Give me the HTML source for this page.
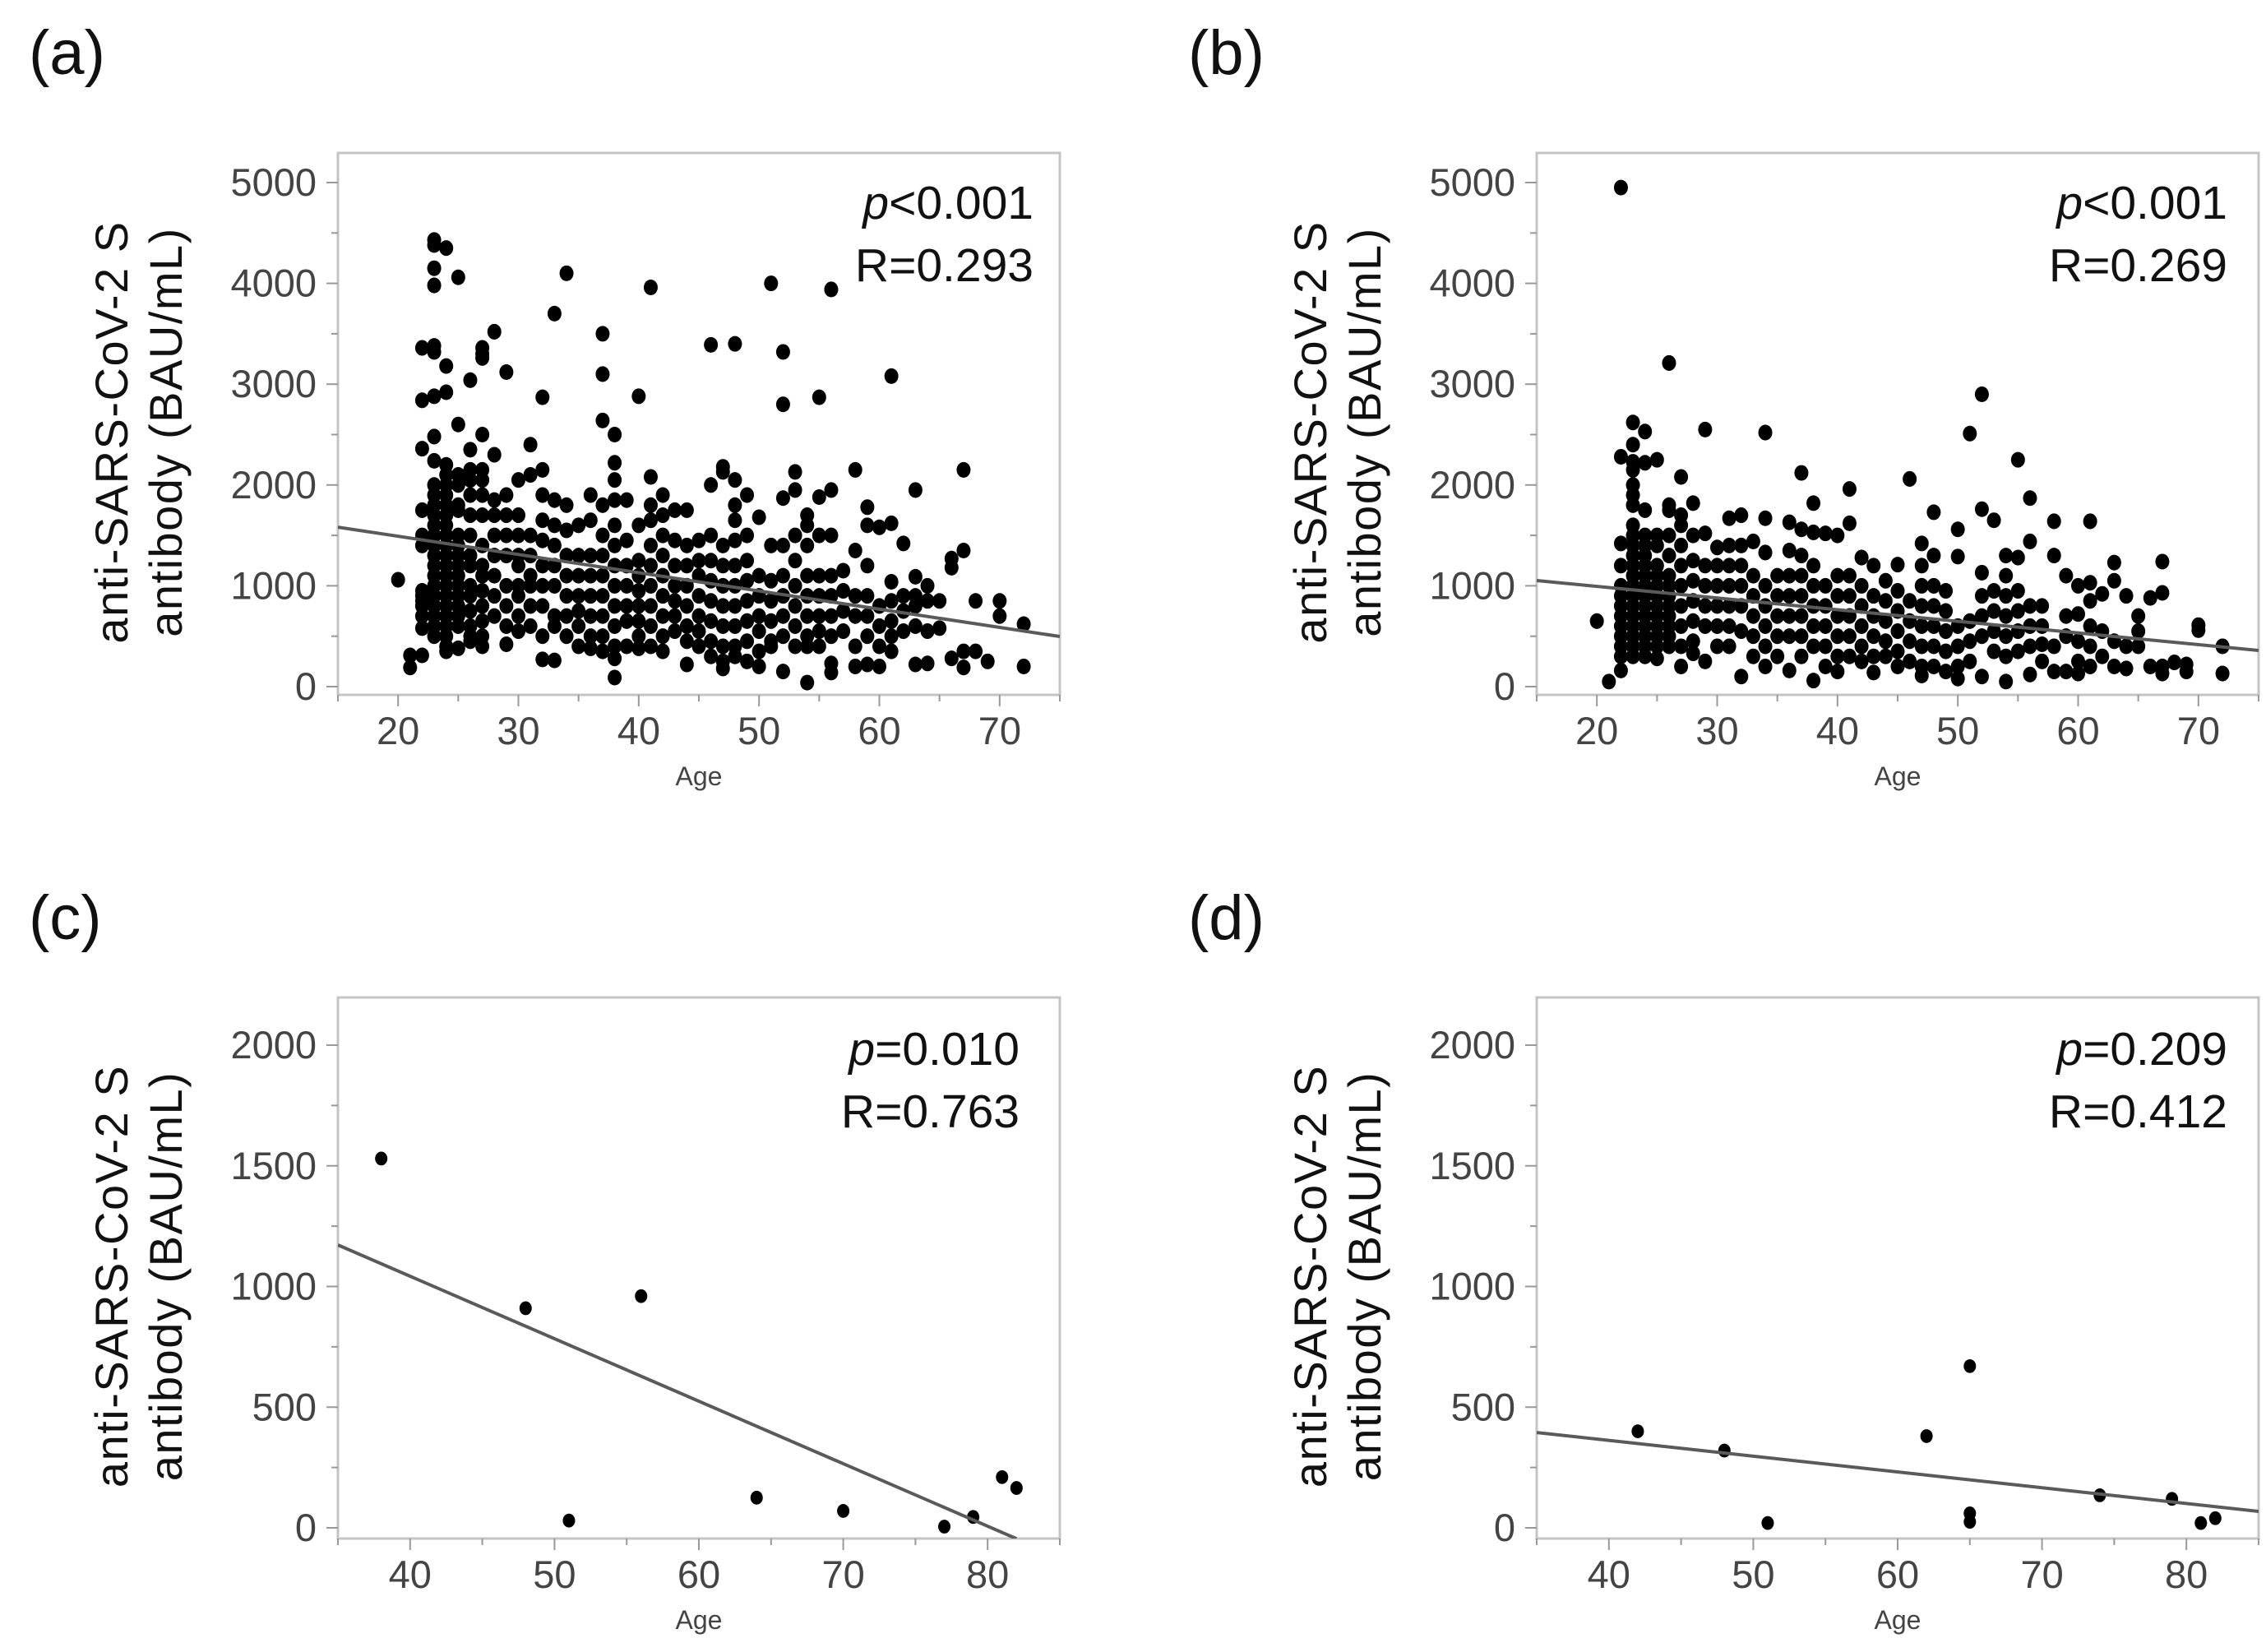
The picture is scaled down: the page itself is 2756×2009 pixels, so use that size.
<!DOCTYPE html>
<html><head><meta charset="utf-8"><style>
html,body{margin:0;padding:0;background:#fff;}
svg{display:block;}
text{font-family:"Liberation Sans",sans-serif;}
</style></head><body>
<svg id="fig" width="2756" height="2009" viewBox="0 0 2756 2009" xmlns="http://www.w3.org/2000/svg"></svg>
<script>
// ---- data: panel (a) age -> antibody values
const ageA = [20,21,22,23,24,25,26,27,28,29,30,31,32,33,34,35,36,37,38,39,40,41,42,43,44,45,46,47,48,49,50,51,52,53,54,55,56,57,58,59,60,61,62,63,64,65,66,67,68,69,70,72];
const valA = [
[1060],[190,310],
[2840,3360,2360,1750,1500,1400,950,900,850,800,700,580,310],
[4430,4380,4150,3980,3380,3320,2880,2480,2240,2000,1900,1800,1700,1600,1500,1400,1300,1200,1100,1000,900,800,700,600,500],
[4350,3180,2920,2200,2100,2000,1900,1800,1700,1600,1500,1400,1300,1200,1100,1000,900,800,700,600,500,400,350],
[4060,2600,2100,2000,1800,1750,1500,1400,1300,1200,1100,1000,900,800,700,600,380],
[3040,2350,2150,2050,1900,1700,1500,1300,1200,1000,900,750,600,500,450],
[3360,3300,3260,2500,2150,2050,1900,1700,1400,1200,1100,950,800,650,500,400],
[3520,2300,1850,1700,1500,1300,1100,900,700],
[3120,1900,1700,1500,1300,1000,800,600,420],
[2050,1700,1500,1300,1200,1000,900,700,550],
[2400,2100,1500,1300,1100,1000,800,600],
[2870,2150,1900,1650,1450,1200,1000,800,500,270],
[3700,1850,1600,1400,1200,1000,700,600,260],
[4100,1800,1550,1300,1100,900,700,500],
[1600,1300,1100,900,750,600,400],
[1900,1650,1300,1100,900,700,500,380],
[3500,3100,2640,1800,1500,1300,1100,900,700,500,350],
[2500,2220,2050,1850,1600,1400,1200,1000,800,600,400,280,90],
[1850,1450,1200,1000,800,650,400],
[2880,1600,1250,1100,950,800,650,500,380],
[3960,2080,1800,1650,1400,1200,1000,800,600,400],
[1900,1700,1500,1300,1100,900,700,500,350],
[1750,1450,1200,1000,850,700,550],
[1750,1400,1200,1000,800,600,450,220],
[1450,1250,1100,900,700,550,400],
[3390,2000,1500,1250,1050,850,650,450,300],
[2180,2130,1400,1200,1000,800,600,400,250,180],
[3400,2050,1800,1650,1450,1200,1000,800,600,400,300],
[1900,1500,1250,1050,850,650,450,250],
[1680,1100,900,700,550,350,200],
[4000,1400,1050,850,650,450,400],
[3320,2800,1870,1400,1100,900,700,500,150],
[2130,1950,1500,1250,1000,800,600,400],
[1700,1600,1400,1100,900,700,500,400,40],
[2870,1880,1500,1100,900,700,550,400],
[3940,1950,1500,1100,900,700,500,230,140],
[1150,950,750,550],
[2150,1350,900,700,400,200],
[1780,1600,1200,900,700,500,220],
[1580,800,600,400,200],
[3080,1620,1040,850,650,500,350],
[1420,900,750,550],
[1950,1090,900,800,600,220],
[1000,850,550,230],
[850,580],
[1270,1180,280],
[2150,1350,350,190],
[350,850],[250],[850,700],[620,200]
];
// ---- panel (b)
const ageB = [20,21,22,23,24,25,26,27,28,29,30,31,32,33,34,35,36,37,38,39,40,41,42,43,44,45,46,47,48,49,50,51,52,53,54,55,56,57,58,59,60,61,62,63,64,65,66,67,68,69,70,72];
const valB = [
[650],[50],
[4950,2280,1420,1200,1000,900,800,700,600,500,400,300,160],
[2620,2400,2230,2150,2000,1900,1800,1600,1500,1400,1300,1200,1100,1000,900,800,700,600,500,400,300],
[2530,2220,1750,1500,1400,1300,1200,1100,1000,900,800,700,600,500,400,300],
[2250,1500,1400,1200,1100,1000,900,800,700,600,500,400,280],
[3210,1800,1750,1500,1300,1100,1000,900,800,700,600,500,400],
[2080,1700,1600,1400,1200,1000,800,600,400,200],
[1820,1500,1250,1050,850,650,450,330],
[2550,1520,1200,1000,800,600,250],
[1380,1200,1000,800,600,400],
[1670,1400,1200,1000,800,600,400],
[1700,1400,1200,1000,800,550,100],
[1440,1100,900,700,500,300],
[2520,1670,1330,1000,800,600,400,200],
[1100,900,700,500,300],
[1630,1350,1100,900,700,500,160],
[2120,1560,1300,1100,900,700,500,300],
[1820,1530,1200,1000,800,600,400,60],
[1520,1000,800,600,400,200],
[1500,1100,900,700,500,300,150],
[1960,1620,1100,900,700,500,300],
[1280,1000,800,600,400,250],
[1200,900,700,500,300,140],
[1050,850,650,450,300],
[1210,950,750,550,350,200],
[2060,850,650,450,250],
[1420,1200,1000,800,600,400,200,110],
[1730,1300,1000,800,600,400,200],
[950,750,550,350,150],
[1560,1290,600,400,200,80],
[2510,650,450,250],
[2900,1760,1130,900,700,500,100],
[1650,950,750,550,350],
[1300,1100,900,700,500,300,50],
[2250,1280,950,750,550,350],
[1870,1440,800,600,400,120],
[800,600,420,250],
[1640,1300,400,150],
[1100,700,500,150],
[1000,720,450,250,130],
[1640,1030,850,600,400,200],
[920,550,300],
[1230,1050,450,200],
[900,400,180],
[700,550,400],
[880,200],
[1240,930,200,130],
[240],[150,220],[610,560],[400,130]
];
// ---- panel (c)
const ageC = [38,48,51,56,64,70,77,79,81,82];
const valC = [1530,910,30,960,125,70,5,45,210,165];
// ---- panel (d)
const ageD = [42,48,51,62,65,65,65,74,79,81,82];
const valD = [400,320,20,380,670,60,25,135,120,20,40];
// ---- regression endpoints [x0,y0,x1,y1]
const fitA = [15,1582,75,497];
const fitB = [15,1052,75,359];
const fitC = [35,1172,82,-45];
const fitD = [35,395,85,68];
// ---- ticks
const xTicksTop = [20,30,40,50,60,70];
const xTicksBot = [40,50,60,70,80];
const yTicksTop = [0,1000,2000,3000,4000,5000];
const yTicksBot = [0,500,1000,1500,2000];
const stats = [["<0.001","R=0.293"],["<0.001","R=0.269"],["=0.010","R=0.763"],["=0.209","R=0.412"]];

const NS="http://www.w3.org/2000/svg";
const svg=document.getElementById('fig');
function mk(tag,attrs,parent){const e=document.createElementNS(NS,tag);for(const k in attrs)e.setAttribute(k,attrs[k]);(parent||svg).appendChild(e);return e;}

function panel(cfg){
  const g=mk('g',{});
  
  
  const L=cfg.L,R=cfg.R,T=cfg.T,B=cfg.B;
  const sx=v=>L+(v-cfg.xmin)/(cfg.xmax-cfg.xmin)*(R-L);
  const sy=v=>cfg.y0+(v)/(cfg.ytop)*(cfg.yt-cfg.y0);
  const lab=mk('text',{x:cfg.lx,y:cfg.ly,'font-size':76,fill:'#111'},g);
  lab.textContent='('+cfg.id+')';
  
  
  const cp=mk('clipPath',{id:'clip'+cfg.id},g);
  mk('rect',{x:L,y:T,width:R-L,height:B-T},cp);
  const fr=mk('rect',{x:L,y:T,width:R-L,height:B-T,fill:'none',stroke:'#c4c4c4','stroke-width':3},g);
  
  
  const step=cfg.yTicks[1]-cfg.yTicks[0];
  for(let v=0;v<=cfg.yTicks[cfg.yTicks.length-1]+1;v+=step/2){
    const y=sy(v);const major=(v%step===0);
    mk('line',{x1:L-(major?14:8),x2:L,y1:y,y2:y,stroke:'#999','stroke-width':2},g);
  }
  cfg.yTicks.forEach(v=>{
    const t=mk('text',{x:L-26,y:sy(v)+16,'font-size':47,fill:'#444','text-anchor':'end'},g);
    t.textContent=v;
    
    
  });
  for(let v=Math.ceil(cfg.xmin/5)*5;v<=cfg.xmax;v+=5){
    const x=sx(v);const major=(v%10===0);
    mk('line',{x1:x,x2:x,y1:B,y2:B+(major?14:8),stroke:'#999','stroke-width':2},g);
  }
  cfg.xTicks.forEach(v=>{
    const t=mk('text',{x:sx(v),y:B+60,'font-size':47,fill:'#444','text-anchor':'middle'},g);
    t.textContent=v;
    
    
  });
  const xt=mk('text',{x:(L+R)/2,y:B+110,'font-size':32,fill:'#444','text-anchor':'middle'},g);
  xt.textContent='Age';
  
  
  const cy=(T+B)/2+10;
  const yt=mk('text',{transform:'translate('+(L-256)+','+cy+') rotate(-90)','font-size':56,'letter-spacing':1.5,fill:'#111','text-anchor':'middle'},g);
  
  
  const t1=mk('tspan',{x:0,y:0},yt);t1.textContent='anti-SARS-CoV-2 S';
  const t2=mk('tspan',{x:0,y:66},yt);t2.textContent='antibody (BAU/mL)';
  const pg=mk('g',{'clip-path':'url(#clip'+cfg.id+')'},g);
  
  
  cfg.pts.forEach(p=>{
    const c=mk('ellipse',{cx:sx(p[0]),cy:sy(p[1]),rx:cfg.r,ry:cfg.r*1.12,fill:'#000'},pg);
    
    
  });
  const f=cfg.fit;
  const ln=mk('line',{x1:sx(f[0]),y1:sy(f[1]),x2:sx(f[2]),y2:sy(f[3]),stroke:'#5a5a5a','stroke-width':4,'clip-path':'url(#clip'+cfg.id+')'},g);
  
  
  const s1=mk('text',{x:R-cfg.sr,y:T+cfg.sy1,'font-size':57,fill:'#111','text-anchor':'end'},g);
  
  
  const pi=mk('tspan',{'font-style':'italic'},s1);pi.textContent='p';
  const pv=mk('tspan',{},s1);pv.textContent=cfg.stat[0];
  const s2=mk('text',{x:R-cfg.sr,y:T+cfg.sy1+76,'font-size':57,fill:'#111','text-anchor':'end'},g);
  s2.textContent=cfg.stat[1];
  
  
}
function flat(ages,vals){const o=[];ages.forEach((a,i)=>vals[i].forEach(v=>o.push([a,v])));return o;}
const cfgTop={T:186,B:845,xmin:15,xmax:75,y0:835,yt:222,ytop:5000,yTicks:yTicksTop,xTicks:xTicksTop,r:8.5,sy1:80,ly:90};
const cfgBot={T:1213,B:1871,xmin:35,xmax:85,y0:1858,yt:1271,ytop:2000,yTicks:yTicksBot,xTicks:xTicksBot,r:7.5,sy1:82,ly:1142};
panel(Object.assign({},cfgTop,{id:'a',L:411,R:1289,lx:35,pts:flat(ageA,valA),fit:fitA,stat:stats[0],sr:32}));
panel(Object.assign({},cfgTop,{id:'b',L:1869,R:2747,lx:1445,pts:flat(ageB,valB),fit:fitB,stat:stats[1],sr:38}));
panel(Object.assign({},cfgBot,{id:'c',L:411,R:1289,lx:35,pts:ageC.map((a,i)=>[a,valC[i]]),fit:fitC,stat:stats[2],sr:49}));
panel(Object.assign({},cfgBot,{id:'d',L:1869,R:2747,lx:1445,pts:ageD.map((a,i)=>[a,valD[i]]),fit:fitD,stat:stats[3],sr:38}));
</script>
</body></html>
